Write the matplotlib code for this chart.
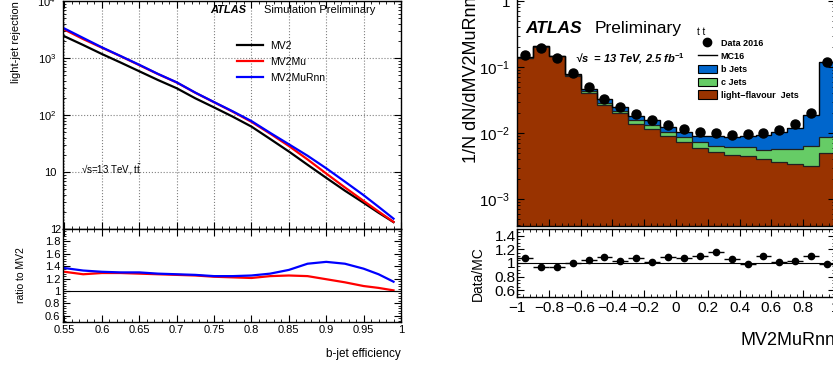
import matplotlib
matplotlib.use('Agg')
import matplotlib.pyplot as plt
import numpy as np
from matplotlib.lines import Line2D
from matplotlib.patches import Patch
from matplotlib.ticker import MultipleLocator, AutoMinorLocator, FixedLocator, FuncFormatter, LogLocator, NullFormatter

plt.rcParams['font.family'] = ['Liberation Sans', 'DejaVu Sans']
plt.rcParams['mathtext.fontset'] = 'custom'
plt.rcParams['mathtext.rm'] = 'Liberation Sans'
plt.rcParams['mathtext.it'] = 'Liberation Sans:italic'
plt.rcParams['mathtext.bf'] = 'Liberation Sans:bold'
plt.rcParams['xtick.direction'] = 'in'
plt.rcParams['ytick.direction'] = 'in'
plt.rcParams['xtick.top'] = True
plt.rcParams['ytick.right'] = True
plt.rcParams['axes.linewidth'] = 1.0

# ---- left: light-jet rejection vs b-jet efficiency ----
eff = [0.55, 0.575, 0.6, 0.625, 0.65, 0.675, 0.7, 0.725, 0.75, 0.775,
       0.8, 0.825, 0.85, 0.875, 0.9, 0.925, 0.95, 0.97, 0.99]
mv2_rej = [2400, 1690, 1175, 833, 585, 411, 295, 196, 136, 93.5,
           62.6, 38, 22.9, 13.4, 7.9, 4.7, 2.88, 1.93, 1.32]
mv2mu_ratio = [1.31, 1.27, 1.29, 1.29, 1.28, 1.27, 1.26, 1.25, 1.23, 1.22,
               1.21, 1.24, 1.25, 1.24, 1.19, 1.14, 1.08, 1.05, 1.01]
mv2murnn_ratio = [1.37, 1.33, 1.31, 1.30, 1.30, 1.28, 1.27, 1.26, 1.24, 1.24,
                  1.25, 1.28, 1.34, 1.44, 1.47, 1.44, 1.36, 1.27, 1.15]

# ---- right: MV2MuRnn discriminant, 20 bins from -1 to 1 ----
bin_edges = np.linspace(-1.0, 1.0, 21)
light_jets = [0.138, 0.204, 0.145, 0.0724, 0.0407, 0.0269, 0.020, 0.0138, 0.0115, 0.0089,
              0.0073, 0.0060, 0.0052, 0.0047, 0.0045, 0.0040, 0.0036, 0.0034, 0.0032, 0.0050]
c_jets = [0.001, 0.001, 0.001, 0.0021, 0.003, 0.0019, 0.0014, 0.0017, 0.0017, 0.0014,
          0.0014, 0.0013, 0.0011, 0.0015, 0.0017, 0.0015, 0.0022, 0.0024, 0.0031, 0.0036]
b_jets = [0.001, 0.001, 0.001, 0.0049, 0.0033, 0.0039, 0.0031, 0.0023, 0.0023, 0.0019,
          0.0018, 0.0018, 0.0026, 0.0025, 0.0029, 0.0039, 0.0044, 0.0061, 0.0123, 0.1124]
data_2016 = [0.150, 0.193, 0.138, 0.081, 0.050, 0.033, 0.025, 0.0195, 0.0155, 0.0132,
             0.0115, 0.0105, 0.0100, 0.0093, 0.0095, 0.0100, 0.0112, 0.0135, 0.0200, 0.119]
data_mc = [1.073, 0.937, 0.946, 0.995, 1.05, 1.09, 1.034, 1.073, 1.01, 1.09,
           1.073, 1.10, 1.16, 1.063, 0.99, 1.10, 1.015, 1.034, 1.10, 0.985]

W, H = 833, 365
fig = plt.figure(figsize=(W / 100, H / 100), dpi=100)


def box(x0, y0, x1, y1):
    return [x0 / W, 1 - y1 / H, (x1 - x0) / W, (y1 - y0) / H]


def gfmt(v, pos):
    v = round(v, 3) + 0.0
    return ('%g' % v).replace('-', '\u2212')


# ===== left upper =====
ax1 = fig.add_axes(box(63, 1, 401, 229))
e = np.array(eff)
rej = np.array(mv2_rej)
ax1.plot(e, rej, color='black', lw=1.6, label='MV2')
ax1.plot(e, rej * np.array(mv2mu_ratio), color='red', lw=1.6, label='MV2Mu')
ax1.plot(e, rej * np.array(mv2murnn_ratio), color='blue', lw=1.6, label='MV2MuRnn')
ax1.set_yscale('log')
ax1.set_ylim(1, 1e4)
ax1.set_xlim(0.548, 1.0)
ax1.xaxis.set_major_locator(MultipleLocator(0.05))
ax1.xaxis.set_minor_locator(AutoMinorLocator(5))
ax1.yaxis.set_major_locator(FixedLocator([1, 10, 100, 1e3, 1e4]))
ax1.yaxis.set_major_formatter(FuncFormatter(
    lambda v, p: '1' if v < 2 else ('10' if v < 20 else r'$10^{%d}$' % round(np.log10(v)))))
ax1.yaxis.set_minor_locator(LogLocator(subs=range(2, 10)))
ax1.yaxis.set_minor_formatter(NullFormatter())
ax1.tick_params(labelbottom=False, labelsize=8, length=5, pad=5)
ax1.tick_params(which='minor', length=2.5)
ax1.grid(True, which='major', linestyle=':', color='gray', lw=0.8)
ax1.set_ylabel('light-jet rejection', fontsize=8, loc='top')
ax1.yaxis.set_label_coords(-0.124, 1.0)
ax1.text(0.435, 0.962, 'ATLAS', transform=ax1.transAxes, fontsize=8, fontweight='bold',
         style='italic', va='center')
ax1.text(0.595, 0.962, 'Simulation Preliminary', transform=ax1.transAxes, fontsize=8, va='center')
ax1.text(0.053, 0.259, '\u221as=13 TeV, t' + r'$\bar{\mathrm{t}}$', transform=ax1.transAxes,
         fontsize=7, va='center')
ax1.legend(loc='upper left', bbox_to_anchor=(0.515, 0.825), frameon=False, fontsize=7.5,
           handlelength=2.5, handletextpad=0.7, labelspacing=0.58, borderpad=0, borderaxespad=0)

# ===== left lower =====
ax2 = fig.add_axes(box(63, 229, 401, 322))
ax2.plot(e, mv2mu_ratio, color='red', lw=1.6)
ax2.plot(e, mv2murnn_ratio, color='blue', lw=1.6)
ax2.axhline(1.0, color='black', lw=0.8)
ax2.set_xlim(0.548, 1.0)
ax2.set_ylim(0.5, 2.0)
ax2.xaxis.set_major_locator(MultipleLocator(0.05))
ax2.xaxis.set_minor_locator(AutoMinorLocator(5))
ax2.xaxis.set_major_formatter(FuncFormatter(gfmt))
ax2.yaxis.set_major_locator(FixedLocator([0.6, 0.8, 1.0, 1.2, 1.4, 1.6, 1.8, 2.0]))
ax2.yaxis.set_major_formatter(FuncFormatter(gfmt))
ax2.yaxis.set_minor_locator(AutoMinorLocator(5))
ax2.tick_params(labelsize=8, length=5, pad=2)
ax2.tick_params(which='minor', length=2.5)
ax2.set_ylabel('ratio to MV2', fontsize=7.5)
ax2.yaxis.set_label_coords(-0.11, 0.5)
ax2.set_xlabel('b-jet efficiency', fontsize=8.5, loc='right')
ax2.xaxis.set_label_coords(1.0, -0.28)

# ===== right upper =====
col_light = '#993300'
col_c = '#66cc66'
col_b = '#0066cc'
ax3 = fig.add_axes(box(517, -8, 835, 226))
lj = np.array(light_jets)
cj = np.array(c_jets)
bj = np.array(b_jets)
base = 1e-6
ax3.stairs(lj, bin_edges, baseline=base, fill=True, color=col_light)
ax3.stairs(lj + cj, bin_edges, baseline=lj, fill=True, color=col_c)
ax3.stairs(lj + cj + bj, bin_edges, baseline=lj + cj, fill=True, color=col_b)
ax3.stairs(lj, bin_edges, baseline=None, color='#202020', lw=0.9)
ax3.stairs(lj + cj, bin_edges, baseline=None, color='#202020', lw=0.9)
ax3.stairs(lj + cj + bj, bin_edges, baseline=None, color='black', lw=1.0)
centers = 0.5 * (bin_edges[:-1] + bin_edges[1:])
ax3.plot(centers, data_2016, 'o', color='black', ms=6.5)
ax3.set_yscale('log')
ax3.set_ylim(3.9e-4, 1.37)
ax3.set_xlim(-1, 1)
ax3.yaxis.set_major_locator(FixedLocator([1e-3, 1e-2, 1e-1, 1]))
ax3.yaxis.set_major_formatter(FuncFormatter(
    lambda v, p: '1' if v > 0.5 else r'$10^{%d}$' % round(np.log10(v))))
ax3.yaxis.set_minor_locator(LogLocator(subs=range(2, 10)))
ax3.yaxis.set_minor_formatter(NullFormatter())
ax3.xaxis.set_major_locator(MultipleLocator(0.2))
ax3.xaxis.set_minor_locator(AutoMinorLocator(5))
ax3.tick_params(labelbottom=False, labelsize=11, length=5, pad=5)
ax3.tick_params(which='minor', length=2.5)
ax3.set_ylabel('1/N dN/dMV2MuRnn', fontsize=13, loc='top')
ax3.yaxis.set_label_coords(-0.116, 0.981)
ax3.text(0.025, 0.842, 'ATLAS', transform=ax3.transAxes, fontsize=12.5, fontweight='bold',
         style='italic', va='center')
ax3.text(0.245, 0.842, 'Preliminary', transform=ax3.transAxes, fontsize=12.5, va='center')
ax3.text(0.182, 0.714, '\u221as  = 13 TeV, 2.5 fb' + r'$^{\mathbf{-1}}$', transform=ax3.transAxes,
         fontsize=8, fontweight='bold', style='italic', va='center')
ax3.text(0.566, 0.830, 't t', transform=ax3.transAxes, fontsize=7, va='center')
handles = [Line2D([], [], marker='o', color='black', ls='none', ms=6),
           Line2D([], [], color='black', lw=1),
           Patch(facecolor=col_b, edgecolor='black', lw=0.8),
           Patch(facecolor=col_c, edgecolor='black', lw=0.8),
           Patch(facecolor=col_light, edgecolor='black', lw=0.8)]
labels = ['Data 2016', 'MC16', 'b Jets', 'c Jets', 'light\u2212flavour  Jets']
ax3.legend(handles, labels, loc='upper left', bbox_to_anchor=(0.569, 0.80), frameon=False,
           prop={'size': 6.5, 'weight': 'bold'}, handlelength=2.1, handleheight=1.0,
           handletextpad=0.4, labelspacing=0.42, borderpad=0, borderaxespad=0)

# ===== right lower =====
ax4 = fig.add_axes(box(517, 229, 835, 297))
ax4.errorbar(centers, data_mc, xerr=0.05, yerr=0.008, fmt='o', color='black', ms=4.5,
             lw=1.0, capsize=0)
ax4.axhline(1.0, color='black', lw=0.8)
ax4.set_xlim(-1, 1)
ax4.set_ylim(0.5, 1.5)
ax4.xaxis.set_major_locator(FixedLocator([-1, -0.8, -0.6, -0.4, -0.2, 0, 0.2, 0.4, 0.6, 0.8, 1.0]))
ax4.xaxis.set_major_formatter(FuncFormatter(gfmt))
ax4.xaxis.set_minor_locator(AutoMinorLocator(5))
ax4.yaxis.set_major_locator(FixedLocator([0.6, 0.8, 1.0, 1.2, 1.4]))
ax4.yaxis.set_major_formatter(FuncFormatter(gfmt))
ax4.yaxis.set_minor_locator(AutoMinorLocator(4))
ax4.tick_params(labelsize=11, length=5, pad=1)
ax4.tick_params(axis='x', pad=3)
ax4.tick_params(which='minor', length=2.5)
ax4.set_ylabel('Data/MC', fontsize=10)
ax4.yaxis.set_label_coords(-0.10, 0.35)
ax4.set_xlabel('MV2MuRnn', fontsize=13, loc='right')
ax4.xaxis.set_label_coords(1.0, -0.52)

fig.savefig('out.png', dpi=100)
